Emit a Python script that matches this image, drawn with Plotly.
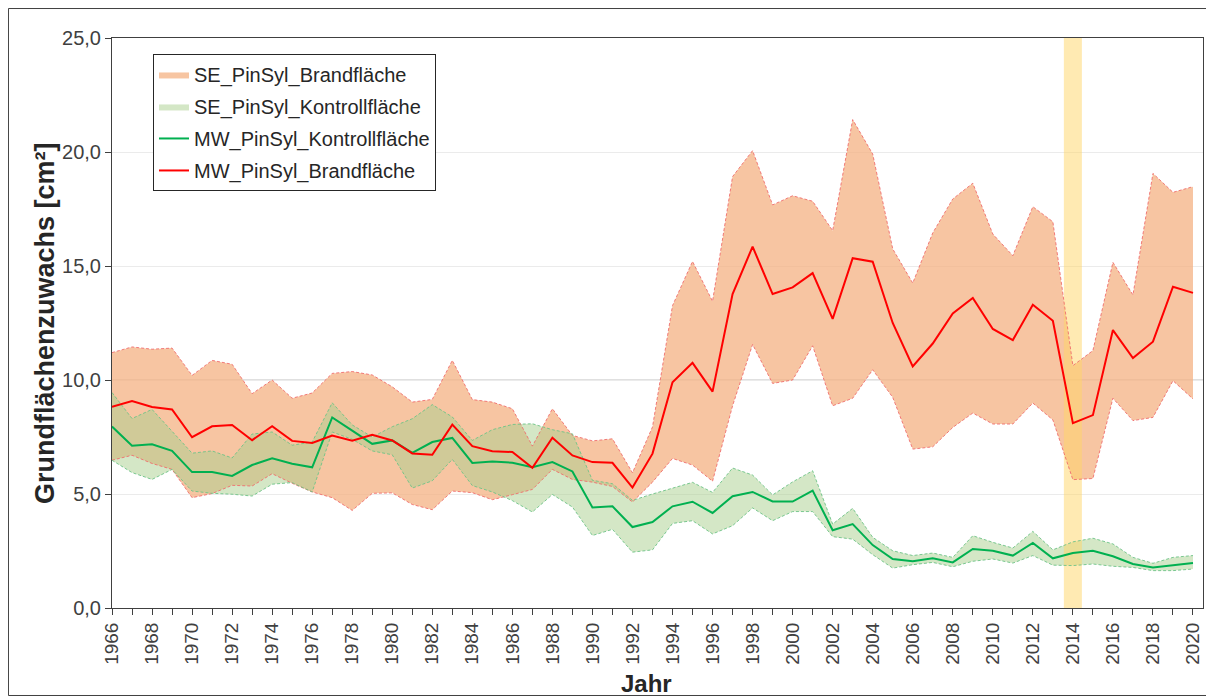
import plotly.graph_objects as go

years = list(range(1966, 2021))

# MW = Mittelwert, SE = Standardfehler-Band (obere / untere Grenze)
mw_brand = [8.82, 9.08, 8.82, 8.71, 7.49, 7.97, 8.03, 7.36, 7.97, 7.33,
            7.24, 7.56, 7.34, 7.60, 7.35, 6.78, 6.72, 8.04, 7.10, 6.88,
            6.84, 6.15, 7.47, 6.69, 6.40, 6.37, 5.28, 6.77, 9.90, 10.75,
            9.49, 13.77, 15.85, 13.77, 14.06, 14.69, 12.68, 15.34, 15.19, 12.50,
            10.60, 11.60, 12.92, 13.60, 12.24, 11.75, 13.30, 12.60, 8.11, 8.46,
            12.19, 10.96, 11.68, 14.09, 13.82]
se_brand_oben = [11.20, 11.45, 11.35, 11.40, 10.20, 10.86, 10.69, 9.40, 10.00, 9.20,
                 9.43, 10.29, 10.37, 10.22, 9.70, 9.03, 9.15, 10.86, 9.14, 9.03,
                 8.74, 7.10, 8.74, 7.57, 7.33, 7.42, 5.93, 7.94, 13.26, 15.20,
                 13.45, 18.92, 20.06, 17.68, 18.08, 17.84, 16.55, 21.42, 19.91, 15.75,
                 14.25, 16.45, 17.94, 18.63, 16.40, 15.45, 17.60, 16.94, 10.63, 11.29,
                 15.16, 13.73, 19.06, 18.23, 18.48]
se_brand_unten = [6.48, 6.70, 6.34, 6.08, 4.84, 5.02, 5.38, 5.35, 5.89, 5.47,
                  5.09, 4.84, 4.28, 5.03, 5.05, 4.54, 4.31, 5.13, 5.06, 4.75,
                  4.97, 5.20, 6.08, 5.64, 5.52, 5.33, 4.65, 5.52, 6.56, 6.27,
                  5.56, 8.87, 11.56, 9.85, 10.00, 11.50, 8.87, 9.20, 10.45, 9.24,
                  6.97, 7.07, 7.92, 8.55, 8.07, 8.07, 8.99, 8.25, 5.63, 5.68,
                  9.20, 8.22, 8.36, 9.97, 9.17]

mw_kontroll = [7.96, 7.12, 7.18, 6.89, 5.96, 5.96, 5.79, 6.27, 6.57, 6.33,
               6.17, 8.36, 7.78, 7.20, 7.35, 6.80, 7.28, 7.46, 6.36, 6.43,
               6.37, 6.17, 6.40, 5.99, 4.41, 4.46, 3.55, 3.77, 4.46, 4.66,
               4.17, 4.90, 5.09, 4.67, 4.67, 5.15, 3.41, 3.68, 2.76, 2.15,
               2.05, 2.18, 2.00, 2.59, 2.51, 2.30, 2.85, 2.18, 2.41, 2.51,
               2.27, 1.93, 1.78, 1.88, 1.97]
se_kontroll_oben = [9.45, 8.31, 8.71, 7.76, 6.79, 6.89, 6.58, 7.63, 7.72, 7.14,
                    7.28, 9.00, 8.03, 7.50, 7.95, 8.30, 8.92, 8.38, 7.35, 7.82,
                    8.05, 8.08, 7.82, 7.64, 5.60, 5.45, 4.72, 5.00, 5.24, 5.51,
                    5.07, 6.14, 5.83, 4.96, 5.53, 6.02, 3.68, 4.37, 3.10, 2.51,
                    2.30, 2.41, 2.22, 3.17, 2.88, 2.63, 3.36, 2.55, 2.90, 3.06,
                    2.81, 2.22, 1.96, 2.22, 2.30]
se_kontroll_unten = [6.48, 5.94, 5.64, 6.08, 5.13, 5.03, 4.99, 4.91, 5.43, 5.50,
                     5.09, 7.72, 7.40, 6.89, 6.72, 5.26, 5.58, 6.52, 5.37, 5.09,
                     4.71, 4.21, 4.98, 4.43, 3.18, 3.45, 2.45, 2.55, 3.71, 3.83,
                     3.25, 3.61, 4.39, 3.83, 4.23, 4.23, 3.13, 3.02, 2.34, 1.75,
                     1.90, 2.00, 1.81, 2.05, 2.15, 1.97, 2.30, 1.88, 1.86, 1.93,
                     1.83, 1.78, 1.64, 1.64, 1.71]

x_ticks = years[::2]
Y_MAX = 25
HIGHLIGHT_YEAR = 2014
HIGHLIGHT_HALF = 0.45

FONT = "Liberation Sans, Arial, sans-serif"
ORANGE_FILL = "rgba(244,177,131,0.75)"
GREEN_FILL = "rgba(169,208,142,0.5)"
RED_EDGE = "rgba(240,110,110,0.9)"
GREEN_EDGE = "rgba(110,195,135,0.9)"

fig = go.Figure()

# ---- Bänder ----
fig.add_trace(go.Scatter(x=years, y=se_brand_unten, mode="lines",
                         line=dict(width=0), showlegend=False, hoverinfo="skip"))
fig.add_trace(go.Scatter(x=years, y=se_brand_oben, mode="lines", fill="tonexty",
                         fillcolor=ORANGE_FILL, line=dict(width=0),
                         name="SE_PinSyl_Brandfläche", legendrank=1,
                         legendgroup="a"))
fig.add_trace(go.Scatter(x=years, y=se_kontroll_unten, mode="lines",
                         line=dict(width=0), showlegend=False, hoverinfo="skip"))
fig.add_trace(go.Scatter(x=years, y=se_kontroll_oben, mode="lines", fill="tonexty",
                         fillcolor=GREEN_FILL, line=dict(width=0),
                         name="SE_PinSyl_Kontrollfläche", legendrank=2,
                         legendgroup="b"))

# ---- Markierung 2014 ----
fig.add_trace(go.Scatter(
    x=[HIGHLIGHT_YEAR - HIGHLIGHT_HALF, HIGHLIGHT_YEAR + HIGHLIGHT_HALF,
       HIGHLIGHT_YEAR + HIGHLIGHT_HALF, HIGHLIGHT_YEAR - HIGHLIGHT_HALF],
    y=[0, 0, Y_MAX, Y_MAX],
    mode="lines", fill="toself", fillcolor="rgba(255,214,102,0.5)",
    line=dict(width=0), showlegend=False, hoverinfo="skip"))

# ---- gestrichelte Ränder ----
for ys, col in [(se_brand_unten, RED_EDGE), (se_brand_oben, RED_EDGE),
                (se_kontroll_unten, GREEN_EDGE), (se_kontroll_oben, GREEN_EDGE)]:
    fig.add_trace(go.Scatter(x=years, y=ys, mode="lines",
                             line=dict(width=1, color=col, dash="3px,2px"),
                             showlegend=False, hoverinfo="skip"))

# ---- Mittelwerte ----
fig.add_trace(go.Scatter(x=years, y=mw_kontroll, mode="lines",
                         line=dict(width=2, color="#00B050"),
                         name="MW_PinSyl_Kontrollfläche", legendrank=3,
                         legendgroup="c"))
fig.add_trace(go.Scatter(x=years, y=mw_brand, mode="lines",
                         line=dict(width=2, color="#FF0000"),
                         name="MW_PinSyl_Brandfläche", legendrank=4,
                         legendgroup="d"))

# 10er-Linie dunkler
fig.add_shape(type="line", xref="paper", yref="y", x0=0, x1=1, y0=10, y1=10,
              line=dict(color="#C0C0C0", width=1), layer="below")
# Rahmen um das ganze Bild (Seite hat 8px Rand, Figur = Rahmen)
fig.add_shape(type="rect", xref="paper", yref="paper",
              x0=-0.0949, x1=1.0059, y0=-0.1535, y1=1.0517,
              line=dict(color="#404040", width=1))

# Achsentitel
fig.add_annotation(text="<b>Grundflächenzuwachs [cm²]</b>", xref="paper", yref="paper",
                   x=-0.0614, y=0.5, textangle=-90, showarrow=False,
                   xanchor="center", yanchor="middle",
                   font=dict(size=27, color="#262626", family=FONT))
fig.add_annotation(text="<b>Jahr</b>", xref="paper", yref="paper",
                   x=0.49, y=-0.1316, showarrow=False,
                   xanchor="center", yanchor="middle",
                   font=dict(size=24, color="#262626", family=FONT))

fig.update_xaxes(
    range=[1966, 2020.5], automargin=False,
    tickmode="array", tickvals=x_ticks, ticktext=[str(y) for y in x_ticks],
    tickangle=-90, ticks="outside", ticklen=6, tickcolor="#404040",
    minor=dict(dtick=1, tick0=1966, ticks="outside", ticklen=6,
               tickcolor="#404040", showgrid=False),
    showgrid=False, showline=True, linecolor="#404040", linewidth=1, mirror=True,
    tickfont=dict(size=19, color="#404040", family=FONT),
)
fig.update_yaxes(
    range=[0, Y_MAX], dtick=5, tickformat=".1f", automargin=False,
    ticks="outside", ticklen=6, tickcolor="#404040",
    showgrid=True, gridcolor="#EBEBEB", zeroline=False,
    showline=True, linecolor="#404040", linewidth=1, mirror=True,
    tickfont=dict(size=20, color="#404040", family=FONT),
)

fig.update_layout(
    width=1202, height=688,
    margin=dict(l=104, r=7, t=30, b=88),
    paper_bgcolor="white", plot_bgcolor="white",
    separators=",.",
    font=dict(family=FONT, color="#262626"),
    showlegend=True,
    legend=dict(
        x=0.0376, y=0.972, xanchor="left", yanchor="top",
        bgcolor="white", bordercolor="#262626", borderwidth=1,
        font=dict(size=20, color="#262626", family=FONT),
        traceorder="grouped", tracegroupgap=3, itemwidth=30,
    ),
)

fig.write_html("out.html")
